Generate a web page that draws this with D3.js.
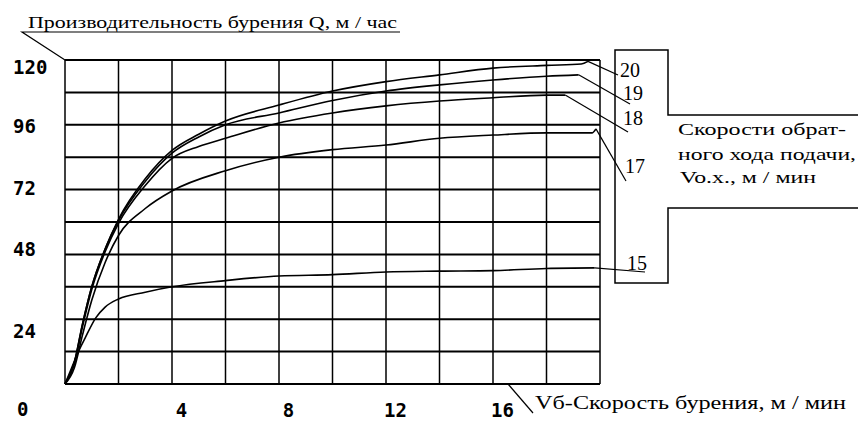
<!DOCTYPE html>
<html><head><meta charset="utf-8">
<script src="https://cdn.jsdelivr.net/npm/d3@7"></script>
<style>
html,body{margin:0;padding:0;background:#fff;}
svg{display:block;}
</style></head>
<body>
<svg id="chart" width="858" height="421"></svg>
<script>
// ---------- data ----------
// the single "0" at bottom-left is shared by both axes (drawn by the y axis)
const xTickValues = [4, 8, 12, 16];
const yTickValues = [0, 24, 48, 72, 96, 120];
const gridX = [0, 2, 4, 6, 8, 10, 12, 14, 16, 18, 20];
const gridY = [0, 12, 24, 36, 48, 60, 72, 84, 96, 108, 120];
const seriesNames = ["20", "19", "18", "17", "15"];

const x20 = [0, 0.35, 0.65, 1, 1.5, 2, 3, 4, 5, 6, 8, 10, 12, 14, 16, 18, 19.3, 19.55];
const q20 = [0, 8, 22, 36, 50, 61, 76, 86.5, 92.5, 97.4, 103.3, 108.5, 112, 114.5, 117, 118, 118.5, 119.5];
const x19 = [0, 0.35, 0.65, 1, 1.5, 2, 3, 4, 5, 6, 8, 10, 12, 14, 16, 18, 19.2];
const q19 = [0, 8, 22, 36, 50, 60.5, 75, 85.5, 91.5, 96, 100.4, 105, 108.5, 110.8, 112.6, 114, 114.5];
const x18 = [0, 0.35, 0.65, 1, 1.5, 2, 3, 4, 5, 6, 8, 10, 12, 14, 16, 18, 18.7];
const q18 = [0, 7.5, 21, 35, 49, 59.5, 73.5, 83.6, 88, 91, 96.7, 100.4, 103, 104.8, 106, 107, 107];
const x17 = [0, 0.35, 0.65, 1, 1.5, 2, 3, 4, 6, 8, 10, 12, 14, 16, 18, 19.7, 19.85];
const q17 = [0, 6, 18, 31, 45, 55, 65, 71.5, 79, 84, 86.8, 88.5, 91, 92.2, 93, 93, 94.5];
const x15 = [0, 0.25, 0.5, 0.75, 1.15, 1.5, 2, 3, 4, 6, 8, 10, 12, 14, 16, 18, 19.8];
const q15 = [0, 6, 12, 17, 24.5, 28.5, 31.5, 34, 36, 38.3, 40, 40.5, 41.5, 41.8, 42, 42.8, 43];

const titleText = "Производительность бурения Q, м / час";
const xAxisText = "Vб-Скорость бурения, м / мин";
const legendLines = ["Скорости обрат-", "ного хода подачи,", "Vo.x., м / мин"];

// ---------- layout ----------
const svg = d3.select("#chart");
const L = 65, R = 600, T = 60, B = 384;
const x = d3.scaleLinear().domain([0, 20]).range([L, R]);
const y = d3.scaleLinear().domain([0, 120]).range([B, T]);

const series = [
  {name: seriesNames[0], xs: x20, qs: q20, lx: 620, ly: 77, ex: 618, ey: 75},
  {name: seriesNames[1], xs: x19, qs: q19, lx: 623, ly: 100, ex: 630, ey: 104},
  {name: seriesNames[2], xs: x18, qs: q18, lx: 623, ly: 125, ex: 628, ey: 132},
  {name: seriesNames[3], xs: x17, qs: q17, lx: 625, ly: 173, ex: 626, ey: 181},
  {name: seriesNames[4], xs: x15, qs: q15, lx: 627, ly: 270, ex: 645, ey: 272}
];

const serif = "'Liberation Serif','Times New Roman',serif";
const mono = "'DejaVu Sans Mono','Liberation Mono',monospace";

// grid
const g = svg.append("g");
g.selectAll("line.gv").data(gridX).join("line")
  .attr("x1", d => x(d)).attr("x2", d => x(d))
  .attr("y1", T).attr("y2", B)
  .attr("stroke", "#000").attr("stroke-width", 1.5);
g.selectAll("line.gh").data(gridY).join("line")
  .attr("x1", L).attr("x2", R)
  .attr("y1", d => y(d)).attr("y2", d => y(d))
  .attr("stroke", "#000").attr("stroke-width", 2);

// curves
const line = d3.line().x(d => x(d[0])).y(d => y(d[1])).curve(d3.curveMonotoneX);
series.forEach(s => {
  const pts = s.xs.map((v, i) => [v, s.qs[i]]);
  svg.append("path").datum(pts)
    .attr("d", line)
    .attr("fill", "none").attr("stroke", "#000").attr("stroke-width", 1.6);
  const last = pts[pts.length - 1];
  svg.append("line")
    .attr("x1", x(last[0])).attr("y1", y(last[1]))
    .attr("x2", s.ex).attr("y2", s.ey)
    .attr("stroke", "#000").attr("stroke-width", 1.2);
  svg.append("text").attr("x", s.lx).attr("y", s.ly)
    .attr("font-family", serif).attr("font-size", 20)
    .attr("fill", "#000").text(s.name);
});

// legend box
svg.append("path")
  .attr("d", "M858,115 H668 V50 H615 V283 H668 V208 H858")
  .attr("fill", "none").attr("stroke", "#000").attr("stroke-width", 1.5);
const legW = [168, 178, 136];
const legY = [135, 160, 183];
legendLines.forEach((t, i) => {
  svg.append("text").attr("x", 678 + (i === 2 ? 2 : 0)).attr("y", legY[i])
    .attr("font-family", serif).attr("font-size", 17)
    .attr("textLength", legW[i]).attr("lengthAdjust", "spacingAndGlyphs")
    .attr("fill", "#000").text(t);
});

// title
svg.append("text").attr("x", 28).attr("y", 28)
  .attr("font-family", serif).attr("font-size", 17)
  .attr("textLength", 369).attr("lengthAdjust", "spacingAndGlyphs")
  .attr("fill", "#000").text(titleText);
svg.append("path").attr("d", `M400,32 H22 L${L},${T}`)
  .attr("fill", "none").attr("stroke", "#000").attr("stroke-width", 1.2);

// x axis title
svg.append("path").attr("d", `M508,${B} L533,413`)
  .attr("fill", "none").attr("stroke", "#000").attr("stroke-width", 1.2);
svg.append("text").attr("x", 535).attr("y", 409)
  .attr("font-family", serif).attr("font-size", 18)
  .attr("textLength", 311).attr("lengthAdjust", "spacingAndGlyphs")
  .attr("fill", "#000").text(xAxisText);

// y axis tick labels
const yOff = {120: 13, 96: 8, 72: 5, 48: 1, 24: 18, 0: 31};
const yAx = svg.append("g").attr("transform", "translate(10,0)")
  .call(d3.axisRight(y).tickValues(yTickValues).tickSize(0).tickPadding(3).tickFormat(d3.format("d")));
yAx.select(".domain").remove();
yAx.selectAll("text")
  .attr("dy", null)
  .attr("transform", d => `translate(${d === 0 ? 4 : 0},${yOff[d]})`)
  .attr("font-family", mono).attr("font-weight", "bold").attr("font-size", 19)
  .attr("fill", "#000");

// x axis tick labels
const xAx = svg.append("g").attr("transform", `translate(0,${B})`)
  .call(d3.axisBottom(x).tickValues(xTickValues).tickSize(0).tickPadding(0).tickFormat(d3.format("d")));
xAx.select(".domain").remove();
xAx.selectAll("text")
  .attr("dy", null).attr("y", 33)
  .attr("transform", "translate(9,0)")
  .attr("font-family", mono).attr("font-weight", "bold").attr("font-size", 19)
  .attr("fill", "#000");
</script>
</body></html>
